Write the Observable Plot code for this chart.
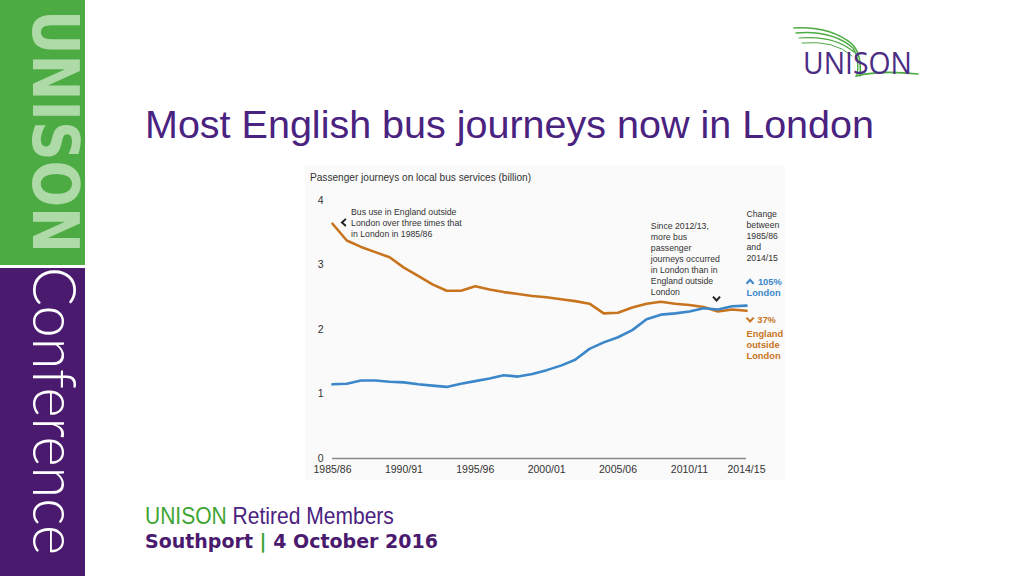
<!DOCTYPE html>
<html>
<head>
<meta charset="utf-8">
<script src="https://cdn.jsdelivr.net/npm/d3@7"></script>
<script src="https://cdn.jsdelivr.net/npm/@observablehq/plot@0.6"></script>
<style>
  html, body { margin: 0; padding: 0; width: 1024px; height: 576px; overflow: hidden; background: #fff; font-family: "Liberation Sans", Arial, sans-serif; }
  .abs { position: absolute; }
  #title { left: 145px; top: 102px; font-size: 39.5px; color: #4a2280; white-space: nowrap; }
  #chartbg { left: 305px; top: 165px; width: 480px; height: 315px; background: #fafafa; }
  #ctitle { left: 310px; top: 172px; font-size: 10.1px; color: #333; white-space: nowrap; }
  #chart { left: 305px; top: 185px; }
  #foot1 { left: 145px; top: 502px; font-family: "Liberation Sans", Arial, sans-serif; font-size: 24px; color: #4a2280; white-space: nowrap; transform: scaleX(0.876); transform-origin: 0 0; }
  #foot2 { left: 145px; top: 530px; font-family: "DejaVu Sans", sans-serif; font-weight: bold; font-size: 19px; color: #4a1a6e; white-space: nowrap; }
</style>
</head>
<body>
<svg class="abs" style="left:0;top:0" width="140" height="576">
  <rect x="0" y="0" width="85" height="265" fill="#4cab43"/>
  <rect x="0" y="268" width="85" height="308" fill="#4a1a6e"/>
  <text transform="translate(33,10) rotate(90)" font-family="DejaVu Sans" font-weight="bold" font-size="64" fill="#addaa6" textLength="243" lengthAdjust="spacingAndGlyphs">UNISON</text>
  <text transform="translate(33,267) rotate(90)" font-family="Lato, 'Open Sans', sans-serif" font-weight="300" font-size="62" fill="#ffffff" textLength="288" lengthAdjust="spacingAndGlyphs">Conference</text>
</svg>

<svg class="abs" style="left:790px;top:18px" width="135" height="68">
  <g fill="none" stroke="#4cab43" stroke-linecap="round">
    <path d="M4 10 Q40 8 62 26 Q72 36 70 58" stroke-width="1.6"/>
    <path d="M6 15 Q42 12 63 30 Q70 40 67 58" stroke-width="1.4"/>
    <path d="M9 20 Q44 17 64 34" stroke-width="1.2"/>
    <path d="M12 25 Q45 22 62 38" stroke-width="1.0"/>
    <path d="M66 58 Q90 52 128 56" stroke-width="1.6"/>
  </g>
  <text x="13" y="56" font-family="'Open Sans', Lato, sans-serif" font-size="31" fill="#4b2c84" textLength="109" lengthAdjust="spacingAndGlyphs">UNISON</text>
</svg>

<div id="title" class="abs">Most English bus journeys now in London</div>
<div id="chartbg" class="abs"></div>
<div id="ctitle" class="abs">Passenger journeys on local bus services (billion)</div>
<div id="chart" class="abs"></div>
<div id="foot1" class="abs"><span style="color:#3fa535">UNISON</span> Retired Members</div>
<div id="foot2" class="abs">Southport <span style="color:#3fa535">|</span> 4 October 2016</div>

<script>
// ---- Data ----
const years = [1985,1986,1987,1988,1989,1990,1991,1992,1993,1994,1995,1996,1997,1998,1999,
               2000,2001,2002,2003,2004,2005,2006,2007,2008,2009,2010,2011,2012,2013,2014];
const london = [1.15,1.16,1.21,1.21,1.19,1.18,1.15,1.13,1.11,1.16,1.20,1.24,1.29,1.27,1.31,
                1.37,1.44,1.53,1.70,1.80,1.88,1.99,2.16,2.23,2.25,2.28,2.33,2.31,2.36,2.37];
const englandOutsideLondon = [3.64,3.38,3.28,3.20,3.12,2.96,2.83,2.70,2.60,2.60,2.67,2.62,2.58,2.55,2.52,
                2.50,2.47,2.44,2.40,2.25,2.26,2.34,2.40,2.43,2.40,2.38,2.35,2.28,2.31,2.29];
const xTickValues = [1985,1990,1995,2000,2005,2010,2014];
const xTickLabels = ["1985/86","1990/91","1995/96","2000/01","2005/06","2010/11","2014/15"];
const yTickValues = [0,1,2,3,4];

// annotations anchored in data space (year, billion)
const notes = [
  {x: 1986.3, y: 3.66, text: "Bus use in England outside\nLondon over three times that\nin London in 1985/86"},
  {x: 2007.3, y: 3.10, text: "Since 2012/13,\nmore bus\npassenger\njourneys occurred\nin London than in\nEngland outside\nLondon"},
  {x: 2014.0, y: 3.46, text: "Change\nbetween\n1985/86\nand\n2014/15"}
];
const londonNotes = [
  {x: 2014.8, y: 2.74, text: "105%"},
  {x: 2014.0, y: 2.56, text: "London"}
];
const englandNotes = [
  {x: 2014.75, y: 2.155, text: "37%"},
  {x: 2014.0, y: 1.77, text: "England\noutside\nLondon"}
];
const chevLeft = [{x: 1985.8, y: 3.66}];
const chevDown = [{x: 2011.9, y: 2.48, c: "#222"}, {x: 2014.25, y: 2.155, c: "#c8741e"}];
const chevUp = [{x: 2014.25, y: 2.74, c: "#3b87c9"}];

const BLUE = "#3b87c9", ORANGE = "#c8741e";
const rowsL = years.map((yr, i) => ({year: yr, value: london[i]}));
const rowsE = years.map((yr, i) => ({year: yr, value: englandOutsideLondon[i]}));

function chevron(dir) {
  return {
    draw(ctx, size) {
      const r = Math.sqrt(size) / 2;
      const a = r * 0.55, b = r;
      if (dir === "left") { ctx.moveTo(a, -b); ctx.lineTo(-a, 0); ctx.lineTo(a, b); }
      if (dir === "up")   { ctx.moveTo(-b, a); ctx.lineTo(0, -a); ctx.lineTo(b, a); }
      if (dir === "down") { ctx.moveTo(-b, -a); ctx.lineTo(0, a); ctx.lineTo(b, -a); }
    }
  };
}

const chart = Plot.plot({
  width: 480,
  height: 295,
  marginTop: 15,
  marginLeft: 27,
  marginRight: 39,
  marginBottom: 22,
  style: {background: "transparent", fontFamily: "'Liberation Sans', Arial, sans-serif", fontSize: "10px", color: "#333", overflow: "visible"},
  x: {domain: [1985, 2014]},
  y: {domain: [0, 4]},
  marks: [
    Plot.axisY({ticks: yTickValues, tickFormat: d => String(d), tickSize: 0, tickPadding: 9, label: null, fontSize: 10.5}),
    Plot.axisX({ticks: xTickValues, tickFormat: d => xTickLabels[xTickValues.indexOf(d)], tickSize: 0, tickPadding: 7, label: null, fontSize: 10.5}),
    Plot.ruleY([0], {stroke: "#888", strokeWidth: 1.5}),
    Plot.line(rowsE, {x: "year", y: "value", stroke: ORANGE, strokeWidth: 2.6}),
    Plot.line(rowsL, {x: "year", y: "value", stroke: BLUE, strokeWidth: 2.6}),
    Plot.text(notes, {x: "x", y: "y", text: "text", textAnchor: "start", lineAnchor: "middle", fontSize: 8.7, lineHeight: 1.27, fill: "#333"}),
    Plot.text(londonNotes, {x: "x", y: "y", text: "text", textAnchor: "start", lineAnchor: "middle", fontSize: 9.3, fontWeight: "bold", fill: BLUE}),
    Plot.text(englandNotes, {x: "x", y: "y", text: "text", textAnchor: "start", lineAnchor: "middle", fontSize: 9.3, lineHeight: 1.22, fontWeight: "bold", fill: ORANGE}),
    Plot.dot(chevLeft, {x: "x", y: "y", r: 4, symbol: chevron("left"), fill: "none", stroke: "#222", strokeWidth: 2}),
    Plot.dot(chevDown, {x: "x", y: "y", r: 4, symbol: chevron("down"), fill: "none", stroke: "c", strokeWidth: 2}),
    Plot.dot(chevUp, {x: "x", y: "y", r: 4, symbol: chevron("up"), fill: "none", stroke: "c", strokeWidth: 2})
  ]
});
document.getElementById("chart").appendChild(chart);
</script>
</body>
</html>
